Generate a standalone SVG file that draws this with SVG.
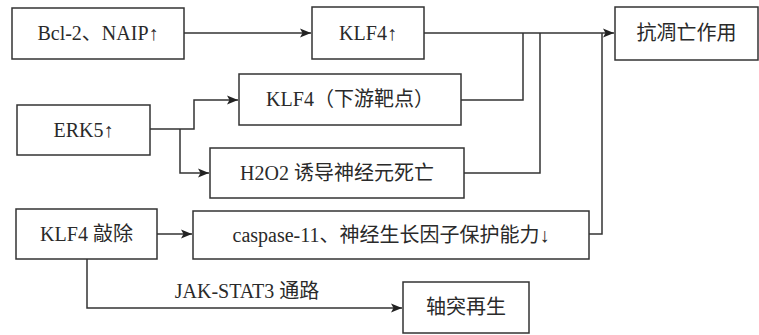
<svg xmlns="http://www.w3.org/2000/svg" width="759" height="335" viewBox="0 0 759 335">
<defs>
<style>
.box{fill:#fff;stroke:#333;stroke-width:1.5}
.t{font-family:"Liberation Serif","Noto Sans CJK SC",serif;font-size:20px;fill:#2a2a2a;text-anchor:middle}
.c{fill:none;stroke:#333;stroke-width:1.5}
</style>
<marker id="ah" markerWidth="12" markerHeight="10" refX="11" refY="5" orient="auto" markerUnits="userSpaceOnUse">
<path d="M0,0.5 L11,5 L0,9.5 L2.5,5 Z" fill="#222"/>
</marker>
</defs>
<rect width="759" height="335" fill="#fff"/>
<g id="connectors">
<path class="c" d="M184,33 H311" marker-end="url(#ah)"/>
<path class="c" d="M424,33 H614" marker-end="url(#ah)"/>
<path class="c" d="M461,100 H523 V33"/>
<path class="c" d="M464,173 H540 V33"/>
<path class="c" d="M589,234 H602 V33"/>
<path class="c" d="M150,129 H194 V100 H238" marker-end="url(#ah)"/>
<path class="c" d="M180,129 V173 H209" marker-end="url(#ah)"/>
<path class="c" d="M157,234 H192" marker-end="url(#ah)"/>
<path class="c" d="M87,259 V308 H402" marker-end="url(#ah)"/>
<text class="t" x="247" y="298">JAK-STAT3 通路</text>
</g>
<g id="bcl2"><rect class="box" x="12" y="8" width="172" height="51"/><text class="t" x="98" y="40">Bcl-2、NAIP↑</text></g>
<g id="klf4up"><rect class="box" x="312" y="7" width="112" height="52"/><text class="t" x="368" y="40">KLF4↑</text></g>
<g id="antiapop"><rect class="box" x="615" y="7" width="143" height="53"/><text class="t" x="686.5" y="40">抗凋亡作用</text></g>
<g id="klf4down"><rect class="box" x="239" y="74" width="222" height="51"/><text class="t" x="350" y="106">KLF4（下游靶点）</text></g>
<g id="erk5"><rect class="box" x="17" y="105" width="133" height="50"/><text class="t" x="83.5" y="137">ERK5↑</text></g>
<g id="h2o2"><rect class="box" x="210" y="148" width="254" height="50"/><text class="t" x="337" y="180">H2O2 诱导神经元死亡</text></g>
<g id="klf4ko"><rect class="box" x="16" y="209" width="141" height="50"/><text class="t" x="86.5" y="241">KLF4 敲除</text></g>
<g id="caspase"><rect class="box" x="193" y="211" width="396" height="48"/><text class="t" x="391" y="242">caspase-11、神经生长因子保护能力↓</text></g>
<g id="axon"><rect class="box" x="403" y="282" width="126" height="51"/><text class="t" x="466" y="314">轴突再生</text></g>
</svg>
